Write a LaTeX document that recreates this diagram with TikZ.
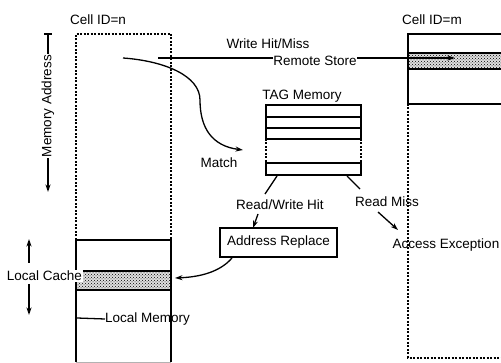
\documentclass[tikz,border=0pt]{standalone}
\usepackage{fontspec}
\setmainfont{Liberation Sans}
\usetikzlibrary{arrows.meta,patterns}
\begin{document}
\begin{tikzpicture}[x=1pt,y=-1pt,
  lbl/.style={inner sep=0pt, font=\fontsize{13.5}{15}\selectfont},
  ln/.style={line width=1.3pt},
  dsh/.style={line width=1.2pt, dash pattern=on 2pt off 1.5pt},
  arr/.style={-{Stealth[length=7.5pt,width=5pt]}, line width=1.3pt},
  bandbg/.style={fill=gray!25},
  band/.style={pattern=crosshatch dots, pattern color=black}
]
\useasboundingbox (0,0) rectangle (501,363);

% ---- left cell (ID=n)
\node[lbl] (cidn) at (98,20) {Cell ID=n};
\draw[dsh] (76,240) -- (76,34) -- (171,34) -- (171,240);
\fill[bandbg] (77,271) rectangle (171,290);
\fill[band] (77,271) rectangle (171,290);
\draw[ln] (76,362) -- (76,240) -- (171,240) -- (171,362);
\draw[ln] (77,271) -- (171,271) (77,290) -- (171,290);
\draw[gray!60, line width=0.6pt] (76,362) -- (171,362);
\node[lbl, fill=white, inner sep=1pt, anchor=east] (lcache) at (83,276) {Local Cache};
\coordinate (lcup) at (29,239);
\coordinate (lcdn) at (29,315);
\coordinate (lcupfrom) at (29,263);
\coordinate (lcdnfrom) at (29,284);
\draw[arr] (lcupfrom) -- (lcup);
\draw[arr] (lcdnfrom) -- (lcdn);
\coordinate (lmstart) at (77,318);
\node[lbl, anchor=west] (lmem) at (105,319) {Local Memory};
\draw[ln] (lmstart) -- (lmem.west);

% ---- memory address
\node[lbl, rotate=90, inner sep=1pt] (maddr) at (48,106) {Memory Address};
\coordinate (matop) at (48,34);
\coordinate (mabot) at (48,192);
\draw[ln] (44,34) -- (52,34);
\draw[ln] (matop) -- (maddr.east);
\draw[arr] (maddr.west) -- (mabot);

% ---- right cell (ID=m)
\node[lbl] (cidm) at (432,20) {Cell ID=m};
\fill[bandbg] (408,53) rectangle (501,69);
\fill[band] (408,53) rectangle (501,69);
\draw[ln] (501,34) -- (408,34) -- (408,104) -- (501,104);
\draw[ln] (408,53) -- (501,53) (408,69) -- (501,69);
\draw[dsh] (408,104) -- (408,358) -- (501,358);

% ---- remote store
\node[lbl] (whm) at (268,44) {Write Hit/Miss};
\node[lbl] (rstore) at (315,61) {Remote Store};
\coordinate (rsstart) at (158,58);
\coordinate (rsend) at (455,58);
\draw[ln] (rsstart) -- (rstore.west |- rsstart);
\draw[arr] (rstore.east |- rsstart) -- (rsend);

% ---- match curve
\coordinate (mstart) at (123,58);
\coordinate (mend) at (243,150);
\draw[arr] (mstart) .. controls (165,61) and (200,76) .. (200,100)
  .. controls (200,128) and (212,146) .. (mend);
\node[lbl] (match) at (219,163) {Match};

% ---- TAG memory
\node[lbl] (tagl) at (302,96) {TAG Memory};
\draw[ln] (266,139) -- (266,105) -- (361,105) -- (361,139);
\draw[ln] (266,117) -- (361,117) (266,128) -- (361,128) (266,139) -- (361,139);
\draw[dsh] (266,139) -- (266,163) (361,139) -- (361,163);
\draw[ln] (266,163) rectangle (361,175);
\coordinate (tagbl) at (277,176);
\coordinate (tagbr) at (347,176);

% ---- branches
\node[lbl] (rwhit) at (280,205) {Read/Write Hit};
\node[lbl] (rmiss) at (387,202) {Read Miss};
\node[lbl] (accx) at (446,245) {Access Exception};
\node[draw, line width=1.3pt, minimum width=117pt, minimum height=29pt, inner sep=0pt,
      font=\fontsize{13.5}{15}\selectfont] (addr) at (278.5,242.5) {Address Replace};
\coordinate (rwa) at (265,194);
\coordinate (rma) at (360,189);
\draw[ln] (tagbl) -- (rwa);
\draw[ln] (tagbr) -- (rma);
\coordinate (rwfrom) at (258,214);
\coordinate (rwto) at (253,228);
\draw[arr] (rwfrom) -- (rwto);
\coordinate (rmfrom) at (378,212);
\coordinate (rmto) at (398,230);
\draw[arr] (rmfrom) -- (rmto);
\coordinate (arstart) at (232,258);
\coordinate (cachein) at (175,278);
\draw[arr] (arstart) .. controls (220,272) and (200,277) .. (cachein);
\end{tikzpicture}
\end{document}
